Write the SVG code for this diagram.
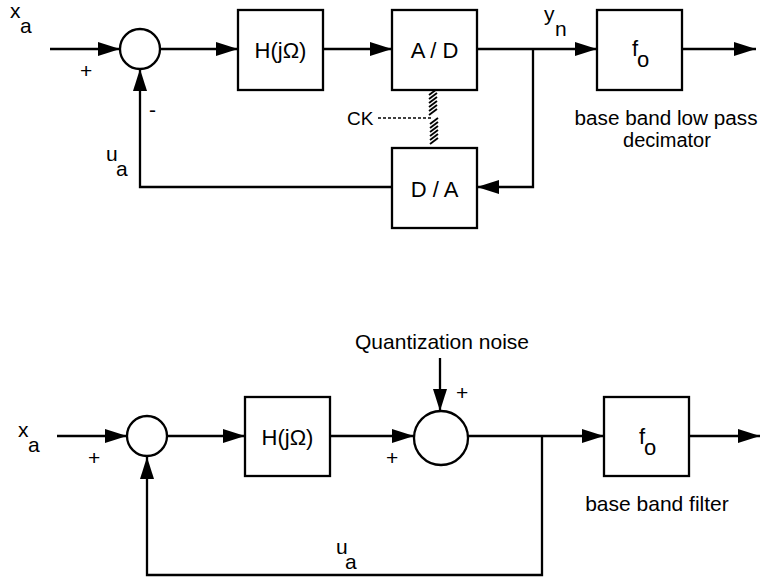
<svg xmlns="http://www.w3.org/2000/svg" width="761" height="577" viewBox="0 0 761 577">
<style>
  .ln { fill: none; stroke: #000; stroke-width: 2.3; }
  .arr { marker-end: url(#ah); }
  .box { fill: #fff; stroke: #000; stroke-width: 2.3; }
  .t { font-family: "Liberation Sans", Arial, sans-serif; font-size: 21px; fill: #000; }
  .cap { font-family: "Liberation Sans", Arial, sans-serif; font-size: 20px; fill: #000; }
  .lbl { font-family: "Liberation Sans", Arial, sans-serif; font-size: 22px; fill: #000; }
  .sm { font-family: "Liberation Sans", Arial, sans-serif; font-size: 19px; fill: #000; }
  .hatch { stroke: #000; stroke-width: 1.8; }
</style>
<defs>
  <marker id="ah" viewBox="0 0 22 14" refX="22" refY="7" markerWidth="22" markerHeight="14" markerUnits="userSpaceOnUse" orient="auto">
    <path d="M0,0 L22,7 L0,14 Z" fill="#000"/>
  </marker>
</defs>
<rect width="761" height="577" fill="#fff"/>

<!-- ===== Top diagram ===== -->
<g id="connectors-top">
  <line class="ln arr" x1="50" y1="49" x2="120" y2="49"/>
  <line class="ln arr" x1="160" y1="49" x2="238" y2="49"/>
  <line class="ln arr" x1="323" y1="49" x2="392" y2="49"/>
  <line class="ln arr" x1="477" y1="49" x2="597" y2="49"/>
  <line class="ln arr" x1="682" y1="49" x2="756" y2="49"/>
  <polyline class="ln arr" points="533,49 533,187 477,187"/>
  <polyline class="ln arr" points="392,187 140,187 140,69"/>
  <line x1="378" y1="118" x2="433" y2="118" stroke="#000" stroke-width="1.5" stroke-dasharray="3,2"/>
  <g id="clock-link" class="hatch">
    <line x1="429" y1="95" x2="437" y2="89"/>
    <line x1="429" y1="99" x2="437" y2="93"/>
    <line x1="429" y1="103" x2="437" y2="97"/>
    <line x1="429" y1="107" x2="437" y2="101"/>
    <line x1="429" y1="111" x2="437" y2="105"/>
    <line x1="429" y1="115" x2="437" y2="109"/>
    <line x1="430" y1="124" x2="438" y2="118"/>
    <line x1="430" y1="128" x2="438" y2="122"/>
    <line x1="430" y1="132" x2="438" y2="126"/>
    <line x1="430" y1="136" x2="438" y2="130"/>
    <line x1="430" y1="140" x2="438" y2="134"/>
    <line x1="430" y1="144" x2="438" y2="138"/>
  </g>
</g>

<g id="top-input-label">
  <text class="t" x="10" y="18">x</text>
  <text class="t" x="20" y="33">a</text>
  <text class="t" x="80" y="78">+</text>
</g>
<g id="top-sum">
  <circle class="box" cx="140" cy="49" r="20"/>
  <text class="t" x="149" y="117">-</text>
</g>
<g id="top-H">
  <rect class="box" x="238" y="10" width="85" height="80"/>
  <text class="lbl" x="280.5" y="58" text-anchor="middle">H(jΩ)</text>
</g>
<g id="top-AD">
  <rect class="box" x="392" y="10" width="85" height="80"/>
  <text class="lbl" x="434.5" y="58" text-anchor="middle">A / D</text>
</g>
<g id="top-yn">
  <text class="t" x="544" y="21">y</text>
  <text class="t" x="555" y="36">n</text>
</g>
<g id="top-f0">
  <rect class="box" x="597" y="10" width="85" height="80"/>
  <text class="lbl" x="632" y="56">f</text>
  <text class="lbl" x="637" y="67">o</text>
</g>
<g id="top-f0-caption">
  <text class="cap" x="666" y="125" text-anchor="middle" textLength="183" lengthAdjust="spacingAndGlyphs">base band low pass</text>
  <text class="cap" x="667" y="147" text-anchor="middle">decimator</text>
</g>
<g id="top-DA">
  <rect class="box" x="392" y="148" width="85" height="80"/>
  <text class="lbl" x="434.5" y="197" text-anchor="middle">D / A</text>
</g>
<g id="top-CK">
  <text class="sm" x="347" y="125">CK</text>
</g>
<g id="top-ua">
  <text class="t" x="106" y="161">u</text>
  <text class="t" x="116" y="176">a</text>
</g>

<!-- ===== Bottom diagram ===== -->
<g id="connectors-bottom">
  <line class="ln arr" x1="57" y1="436" x2="127" y2="436"/>
  <line class="ln arr" x1="167" y1="436" x2="245" y2="436"/>
  <line class="ln arr" x1="330" y1="436" x2="414" y2="436"/>
  <line class="ln arr" x1="440" y1="358" x2="440" y2="411"/>
  <line class="ln arr" x1="468" y1="436" x2="604" y2="436"/>
  <line class="ln arr" x1="689" y1="436" x2="760" y2="436"/>
  <polyline class="ln arr" points="542,436 542,575 147,575 147,457"/>
</g>
<g id="bot-input-label">
  <text class="t" x="18" y="437">x</text>
  <text class="t" x="28" y="452">a</text>
  <text class="t" x="88" y="465">+</text>
</g>
<g id="bot-sum">
  <circle class="box" cx="147" cy="436" r="20"/>
</g>
<g id="bot-H">
  <rect class="box" x="245" y="397" width="85" height="79"/>
  <text class="lbl" x="287.5" y="445" text-anchor="middle">H(jΩ)</text>
</g>
<g id="bot-quant-sum">
  <circle class="box" cx="441" cy="438" r="27"/>
  <text class="t" x="386" y="465">+</text>
  <text class="t" x="456" y="400">+</text>
</g>
<g id="bot-noise">
  <text class="t" x="442" y="349" text-anchor="middle" textLength="174" lengthAdjust="spacingAndGlyphs">Quantization noise</text>
</g>
<g id="bot-f0">
  <rect class="box" x="604" y="397" width="85" height="79"/>
  <text class="lbl" x="639" y="444">f</text>
  <text class="lbl" x="644" y="455">o</text>
</g>
<g id="bot-f0-caption">
  <text class="t" x="657" y="511" text-anchor="middle">base band filter</text>
</g>
<g id="bot-ua">
  <text class="t" x="336" y="554">u</text>
  <text class="t" x="345" y="569">a</text>
</g>
</svg>
